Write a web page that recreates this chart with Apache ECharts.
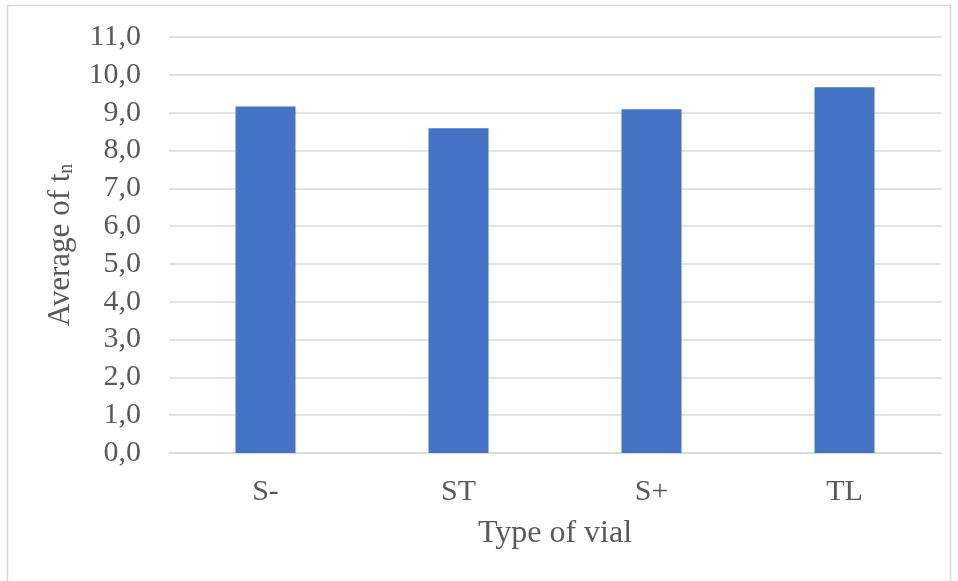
<!DOCTYPE html>
<html>
<head>
<meta charset="utf-8">
<script src="https://cdn.jsdelivr.net/npm/echarts@6/dist/echarts.min.js"></script>
<style>
  html, body { margin: 0; padding: 0; background: #fff; }
  #chart { width: 958px; height: 581px; }
</style>
</head>
<body>
<div id="chart"></div>
<script>
// Vial types and the average t_n measured for each
const categories = ['S-', 'ST', 'S+', 'TL'];
const averageTn = [9.16, 8.59, 9.09, 9.67];

const yMin = 0;
const yMax = 11;
const yStep = 1;

const textColor = '#595959';
const gridColor = '#d9d9d9';
const fontFamily = '"Liberation Serif", "Times New Roman", serif';

const chart = echarts.init(document.getElementById('chart'));

chart.setOption({
  animation: false,
  backgroundColor: '#ffffff',
  textStyle: { fontFamily: fontFamily },
  graphic: [{
    type: 'rect',
    shape: { x: 7.5, y: 5.5, width: 943, height: 600 },
    style: { fill: 'none', stroke: gridColor, lineWidth: 1.5 },
    silent: true
  }],
  grid: { left: 169, right: 17, top: 37, bottom: 128 },
  xAxis: {
    type: 'category',
    data: categories,
    name: 'Type of vial',
    nameLocation: 'middle',
    nameGap: 65,
    nameTextStyle: { color: textColor, fontSize: 32, fontFamily: fontFamily },
    axisLine: { show: true, lineStyle: { color: gridColor, width: 1.5 } },
    axisTick: { show: false },
    axisLabel: { color: textColor, fontSize: 30, fontFamily: fontFamily, margin: 24 }
  },
  yAxis: {
    type: 'value',
    min: yMin,
    max: yMax,
    interval: yStep,
    name: 'Average of t{sub|n}',
    nameLocation: 'middle',
    nameGap: 92,
    nameRotate: 90,
    nameTextStyle: {
      color: textColor,
      fontSize: 31,
      fontFamily: fontFamily,
      rich: {
        sub: { fontSize: 20, color: textColor, fontFamily: fontFamily, padding: [12, 0, 0, 0] }
      }
    },
    axisLine: { show: false },
    axisTick: { show: false },
    splitLine: { lineStyle: { color: gridColor, width: 1.5 } },
    axisLabel: {
      color: textColor,
      fontSize: 30,
      fontFamily: fontFamily,
      margin: 28,
      formatter: v => v.toFixed(1).replace('.', ',')
    }
  },
  series: [{
    type: 'bar',
    data: averageTn,
    barWidth: 60,
    itemStyle: { color: '#4472c4' }
  }]
});
</script>
</body>
</html>
